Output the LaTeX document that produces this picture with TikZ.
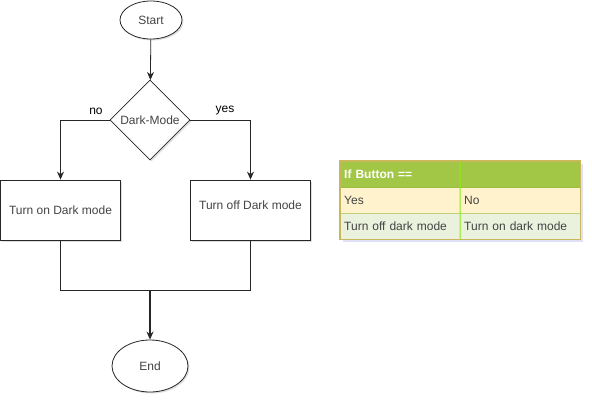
\documentclass[tikz,border=0pt]{standalone}
\usepackage{fontspec}
\setmainfont{Liberation Sans}
\usetikzlibrary{shapes.geometric,shadows,arrows.meta}

\definecolor{txtgray}{HTML}{444444}
\definecolor{hdgreen}{HTML}{A2C646}
\definecolor{rowyellow}{HTML}{FFF2CC}
\definecolor{rowgreen}{HTML}{EAF1DD}
\definecolor{tabborder}{HTML}{C8B85A}
\definecolor{rowline}{HTML}{9CBF3C}
\definecolor{colline}{HTML}{88EE11}

\tikzset{
  flow/.style={draw=black!85,line width=0.8pt,text=txtgray,font=\fontsize{12}{14}\selectfont,
    drop shadow={shadow xshift=1.5pt,shadow yshift=-1.5pt,opacity=0.25}},
  terminal/.style={flow,ellipse,fill=white,inner sep=0pt},
  decision/.style={flow,diamond,fill=white,inner sep=0pt,minimum width=80pt,minimum height=80pt},
  process/.style={flow,rectangle,fill=white,minimum width=120pt,minimum height=60pt,inner sep=0pt},
  wire/.style={line width=0.8pt,black!85},
  link/.style={wire,-{Stealth[length=8pt,width=7pt]}},
  branch/.style={font=\fontsize{12}{14}\selectfont,text=black},
  cell/.style={rectangle,minimum width=120pt,minimum height=26pt,inner sep=0pt,anchor=north west,
    text=txtgray,font=\fontsize{12}{14}\selectfont,text width=112pt,align=left},
}

\begin{document}
\begin{tikzpicture}[x=1pt,y=-1pt]
	\useasboundingbox (0,0) rectangle (592,402);
	% flowchart
	\node[terminal,minimum width=62pt,minimum height=38pt] (start) at (151,20) {Start};
	\node[decision] (dark) at (150,120) {Dark-Mode};
	\node[process] (turnon) at (60.5,210) {Turn on Dark mode};
	\node[process,text depth=10pt] (turnoff) at (250.5,210) {Turn off Dark mode};
	\node[terminal,minimum width=76pt,minimum height=52pt] (end) at (150,366) {End};
	\coordinate (join) at (150,290);

	\draw[link] (start) -- (dark);
	\draw[link] (dark.west) -| (turnon.north);
	\draw[link] (dark.east) -| (turnoff.north);
	\draw[wire] (turnon.south) |- (join);
	\draw[wire] (turnoff.south) |- (join);
	\draw[link,line width=1.3pt] (join) -- (end);
	\node[branch] (no) at (96,111) {no};
	\node[branch] (yes) at (225,111) {yes};

	% table
	\fill[gray!40!blue!30,opacity=0.5] (343,164) rectangle (583,242);
	\node[cell,fill=hdgreen,minimum width=240pt,text width=232pt,text=white,font=\fontsize{12}{14}\selectfont\bfseries] (head) at (340,161) {If Button ==};
	\node[cell,fill=rowyellow] (yescell) at (340,187) {Yes};
	\node[cell,fill=rowyellow] (nocell) at (460,187) {No};
	\node[cell,fill=rowgreen] (offcell) at (340,213) {Turn off dark mode};
	\node[cell,fill=rowgreen] (oncell) at (460,213) {Turn on dark mode};
	\draw[rowline,line width=1pt] (yescell.north west) -- (nocell.north east);
	\draw[rowline!70,line width=0.8pt] (offcell.north west) -- (oncell.north east);
	\draw[colline,line width=1pt] (head.north) -- (oncell.south west);
	\draw[tabborder,line width=1.2pt] (head.north west) rectangle (oncell.south east);
\end{tikzpicture}
\end{document}
